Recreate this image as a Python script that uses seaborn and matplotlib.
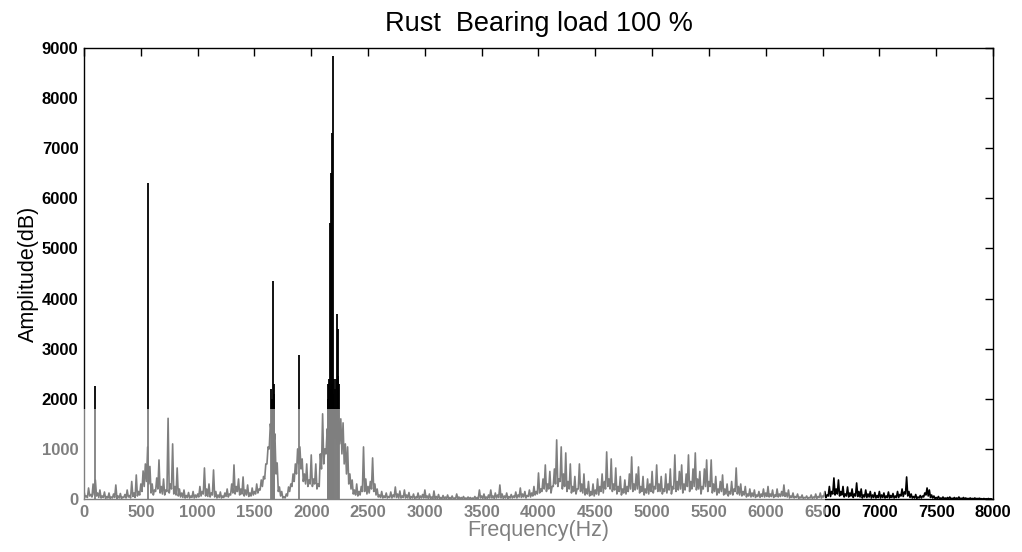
import numpy as np
import pandas as pd
import matplotlib
matplotlib.use("Agg")
import matplotlib.pyplot as plt
from matplotlib.patches import Rectangle
import seaborn as sns

# spectrum tops, one value every 20 Hz (0, 20, 40 ...), split per 1000 Hz
amp_0k = [150, 60, 220, 90, 300, 380, 120, 180, 60, 140,
          50, 120, 40, 100, 280, 60, 110, 40, 90, 180,
          70, 350, 120, 480, 150, 300, 560, 700, 1040, 650,
          300, 180, 420, 780, 250, 400, 180, 1610, 300, 1100,
          250, 620, 200, 120, 180, 70, 130, 60, 150, 80]
amp_1k = [100, 250, 150, 620, 200, 300, 120, 580, 150, 80,
          140, 60, 120, 200, 100, 300, 680, 250, 400, 200,
          440, 180, 280, 120, 220, 150, 300, 200, 380, 450,
          700, 1040, 1500, 1800, 1300, 720, 240, 150, 40, 100,
          240, 300, 500, 700, 1000, 1040, 800, 500, 700, 380]
amp_2k = [880, 400, 700, 300, 900, 1700, 1000, 1400, 1800, 1800,
          1800, 1800, 1800, 1600, 1520, 1100, 1040, 500, 380, 180,
          300, 150, 250, 1040, 400, 250, 350, 820, 300, 200,
          80, 150, 60, 120, 50, 140, 80, 240, 100, 160,
          60, 180, 80, 130, 50, 100, 40, 120, 60, 90]
amp_3k = [180, 60, 100, 40, 160, 50, 90, 30, 70, 40,
          80, 30, 60, 20, 100, 40, 30, 50, 20, 40,
          30, 20, 50, 30, 180, 60, 100, 40, 80, 180,
          60, 120, 80, 280, 100, 60, 120, 50, 90, 60,
          140, 80, 220, 100, 150, 70, 180, 120, 250, 150]
amp_4k = [520, 200, 400, 680, 300, 550, 250, 600, 1180, 400,
          1040, 500, 920, 350, 700, 250, 450, 200, 700, 300,
          500, 200, 350, 150, 300, 180, 400, 250, 500, 350,
          940, 400, 800, 300, 620, 250, 450, 200, 380, 250,
          500, 840, 300, 500, 640, 250, 450, 200, 400, 300]
amp_5k = [550, 250, 680, 300, 450, 200, 500, 300, 600, 250,
          880, 350, 550, 680, 300, 500, 880, 350, 600, 920,
          400, 550, 250, 600, 780, 350, 780, 300, 450, 200,
          350, 480, 200, 300, 150, 350, 200, 620, 250, 300,
          150, 250, 100, 200, 120, 180, 80, 150, 100, 200]
amp_6k = [120, 250, 100, 180, 80, 200, 100, 150, 280, 120,
          180, 60, 120, 50, 100, 40, 80, 30, 60, 30,
          80, 40, 100, 50, 120, 60, 150, 80, 250, 150,
          420, 200, 380, 150, 250, 100, 240, 120, 200, 100,
          320, 150, 200, 80, 180, 100, 150, 80, 130, 70]
amp_7k = [150, 80, 120, 60, 140, 70, 110, 60, 150, 90,
          200, 140, 440, 150, 100, 50, 90, 40, 70, 60,
          120, 220, 180, 80, 60, 30, 50, 20, 40, 20,
          30, 40, 15, 30, 20, 40, 15, 30, 20, 10,
          20, 10, 20, 10, 15, 5, 10, 5, 10, 5]

# spectrum floor between the tops (10, 30, 50 ... Hz)
floor_0k = [40, 30, 60, 40, 80, 60, 30, 20, 30, 10,
            20, 10, 20, 30, 10, 20, 10, 30, 20, 40,
            20, 50, 30, 60, 80, 150, 250, 350, 300, 120,
            80, 150, 200, 120, 100, 80, 150, 120, 200, 100,
            80, 60, 40, 30, 20, 30, 20, 30, 20, 30]
floor_1k = [40, 60, 100, 60, 50, 40, 80, 40, 20, 30,
            20, 30, 50, 40, 80, 120, 100, 150, 80, 100,
            60, 80, 50, 60, 80, 100, 120, 180, 250, 400,
            700, 1000, 1300, 1100, 500, 150, 60, 20, 20, 60,
            150, 250, 350, 500, 700, 600, 350, 300, 250, 300]
floor_2k = [250, 300, 200, 250, 600, 700, 900, 1200, 1300, 1300,
            1200, 1000, 1100, 900, 700, 500, 300, 200, 100, 80,
            60, 80, 150, 150, 100, 120, 200, 150, 80, 40,
            30, 20, 30, 20, 30, 20, 40, 30, 20, 20,
            30, 20, 20, 10, 20, 10, 20, 10, 20, 20]
floor_3k = [20, 10, 10, 5, 10, 5, 10, 5, 5, 5,
            5, 5, 5, 5, 5, 5, 5, 5, 5, 5,
            5, 5, 5, 10, 20, 10, 10, 10, 20, 20,
            10, 20, 30, 20, 10, 20, 10, 20, 20, 30,
            20, 40, 30, 40, 20, 50, 40, 60, 80, 100]
floor_4k = [120, 150, 200, 150, 200, 120, 250, 300, 250, 350,
            200, 250, 150, 200, 120, 150, 100, 200, 150, 120,
            80, 100, 60, 80, 60, 100, 80, 150, 120, 200,
            250, 200, 150, 180, 100, 150, 80, 120, 100, 150,
            200, 150, 180, 200, 120, 150, 80, 120, 100, 150]
floor_5k = [120, 200, 150, 150, 100, 150, 120, 180, 100, 200,
            150, 180, 200, 120, 180, 250, 150, 200, 250, 180,
            200, 100, 200, 250, 150, 250, 120, 150, 80, 120,
            150, 80, 100, 60, 100, 80, 150, 100, 80, 60,
            80, 40, 60, 40, 50, 30, 50, 30, 50, 40]
floor_6k = [50, 40, 50, 30, 50, 40, 50, 60, 50, 40,
            20, 30, 20, 30, 10, 20, 10, 20, 10, 20,
            10, 20, 10, 30, 20, 40, 30, 60, 50, 100,
            80, 100, 60, 80, 40, 60, 40, 60, 30, 60,
            50, 40, 20, 40, 30, 40, 20, 30, 20, 30]
floor_7k = [20, 30, 20, 30, 20, 30, 20, 30, 30, 60,
            50, 100, 60, 30, 20, 20, 10, 20, 20, 40,
            80, 60, 30, 20, 10, 10, 5, 5, 5, 5,
            5, 5, 5, 5, 5, 5, 5, 5, 5, 5,
            5, 5, 5, 5, 5, 0, 0, 0, 0, 0]

# narrow harmonic peaks
peak_freq = [97, 560, 1645, 1652, 1660, 1668, 1675, 1893,
             2145, 2150, 2155, 2160, 2165, 2170, 2175, 2180, 2185, 2190,
             2195, 2200, 2210, 2220, 2228, 2235, 2238, 2242]
peak_amp = [2250, 6300, 2200, 2000, 4350, 2300, 2100, 2870,
            2000, 2300, 1900, 2400, 5500, 2200, 6500, 2300, 7300, 2100,
            8850, 2400, 2200, 2400, 3700, 2450, 3400, 2300]

tops = amp_0k + amp_1k + amp_2k + amp_3k + amp_4k + amp_5k + amp_6k + amp_7k
floors = (floor_0k + floor_1k + floor_2k + floor_3k + floor_4k + floor_5k
          + floor_6k + floor_7k)
spec = pd.concat([
    pd.DataFrame({"freq": np.arange(len(tops)) * 20, "amp": tops}),
    pd.DataFrame({"freq": np.arange(len(floors)) * 20 + 10, "amp": floors}),
]).sort_values("freq")

sns.set_style("white")
plt.rcParams["font.family"] = ["Liberation Sans", "DejaVu Sans"]
plt.rcParams["text.color"] = "black"
plt.rcParams["axes.labelcolor"] = "black"

fig = plt.figure(figsize=(10.22, 5.52), dpi=100)
ax = fig.add_axes([0.0822, 0.096, 0.8894, 0.817])

sns.lineplot(data=spec, x="freq", y="amp", estimator=None, sort=False,
             color="black", linewidth=1.2, ax=ax)
ax.vlines(peak_freq, 0, peak_amp, color="black", linewidth=1.3)

ax.set_xlim(0, 8000)
ax.set_ylim(0, 9000)
ax.set_xticks(range(0, 8001, 500))
ax.set_yticks(range(0, 9001, 1000))
ax.tick_params(direction="in", length=6, width=1, top=True, right=True,
               labelsize=12, pad=4, colors="black")
for lab in ax.get_xticklabels() + ax.get_yticklabels():
    lab.set_fontweight("bold")
for sp in ax.spines.values():
    sp.set_visible(True)
    sp.set_color("black")
    sp.set_linewidth(1.0)

ax.set_xlabel("Frequency(Hz)", fontsize=15.5, labelpad=0)
ax.set_ylabel("Amplitude(dB)", fontsize=15.5, labelpad=2)
ax.set_title("Rust  Bearing load 100 %", fontsize=19.5, pad=12)

# faded lower-left area of the scanned figure
fig.patches.append(Rectangle((0, 0), 0.807, 0.259, transform=fig.transFigure,
                             facecolor="white", alpha=0.5, edgecolor="none",
                             zorder=10))

fig.savefig("out.png", dpi=100, facecolor="white")
